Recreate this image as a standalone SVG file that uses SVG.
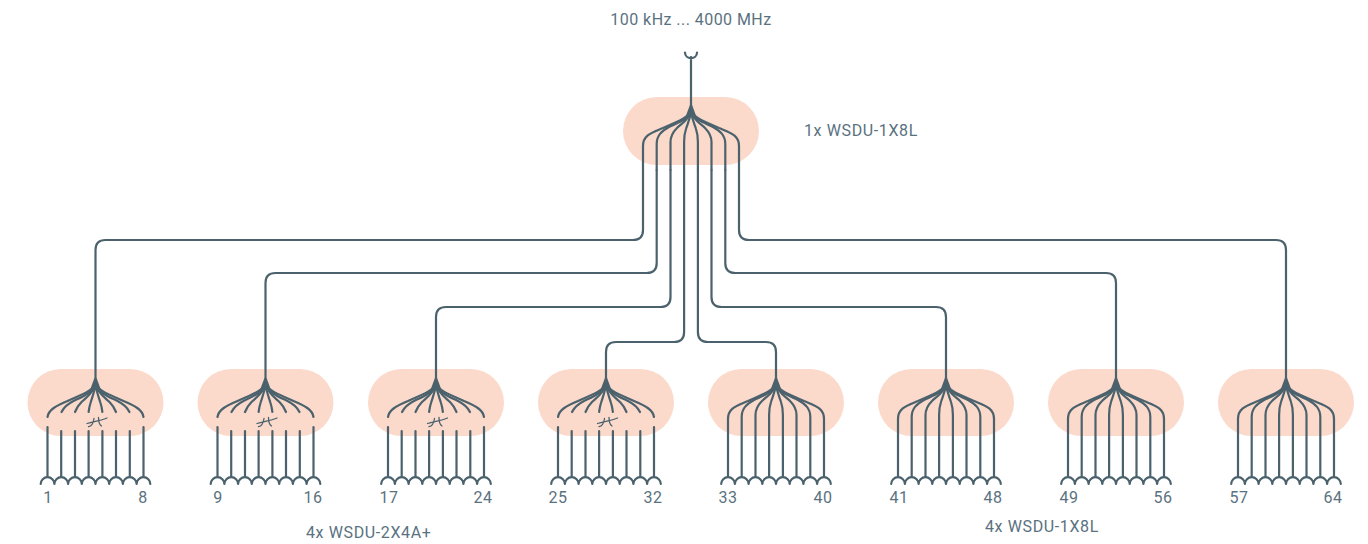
<svg xmlns="http://www.w3.org/2000/svg" width="1368" height="544" viewBox="0 0 1368 544">
<style>
text{font-family:Roboto,"Liberation Sans",sans-serif;font-size:16px;letter-spacing:.45px;fill:#5a7280}
.l{letter-spacing:.62px}
.m{text-anchor:middle}
.pill{fill:#fbd9cb}
.w{fill:none;stroke:#4b626d;stroke-width:2.2;stroke-linecap:round;stroke-linejoin:round}
.t{fill:#4b626d}
</style>
<defs>
<path id="wedge" class="t" d="M-1.100 -3H1.100L5.500 9H-5.500Z"/>
<g id="ports" class="w"><path d="M-54.800 103a6.850 6.850 0 0 1 13.700 0a6.850 6.850 0 0 1 13.700 0a6.850 6.850 0 0 1 13.700 0a6.850 6.850 0 0 1 13.700 0a6.850 6.850 0 0 1 13.700 0a6.850 6.850 0 0 1 13.700 0a6.850 6.850 0 0 1 13.700 0a6.850 6.850 0 0 1 13.700 0"/></g>
<g id="curves-full" class="w">
<path d="M0 3C-4 11-18 15-28 20C-40 25-48 27-48 38V96"/>
<path d="M0 3C-3 12-14 15-22 19C-29 23-34.300 27-34.300 36V96"/>
<path d="M0 3C-2 12-10 16-14 20C-18 24-20.500 28-20.500 34V96"/>
<path d="M0 3C-1 12-4 17-5 21C-6.400 25-6.900 29-6.900 34V96"/>
<path d="M0 3C1 12 4 17 5 21C6.400 25 6.900 29 6.900 34V96"/>
<path d="M0 3C2 12 10 16 14 20C18 24 20.500 28 20.500 34V96"/>
<path d="M0 3C3 12 14 15 22 19C29 23 34.300 27 34.300 36V96"/>
<path d="M0 3C4 11 18 15 28 20C40 25 48 27 48 38V96"/>
</g>
<g id="plain">
<rect class="pill" x="-68" y="-12" width="136" height="67" rx="33.500"/>
<use href="#wedge"/>
<use href="#curves-full"/>
<use href="#ports"/>
</g>
<g id="atten">
<rect class="pill" x="-68" y="-12" width="136" height="67" rx="33.500"/>
<use href="#wedge"/>
<g class="w">
<path d="M0 3C-4 11-18 15-28 20C-40 25-47 29-48 36"/>
<path d="M0 3C-3 12-14 16-22 20C-28 23-32 27-34 31"/>
<path d="M0 3C-2 12-10 17-14 21C-17 24-19 27-20.500 31"/>
<path d="M0 3C-1 12-4 18-5 22C-6 25-6.500 28-6.900 31"/>
<path d="M0 3C1 12 4 18 5 22C6 25 6.500 28 6.900 31"/>
<path d="M0 3C2 12 10 17 14 21C17 24 19 27 20.500 31"/>
<path d="M0 3C3 12 14 16 22 20C28 23 32 27 34 31"/>
<path d="M0 3C4 11 18 15 28 20C40 25 47 29 48 36"/>
<path d="M-48 46V96M48 46V96"/>
<path d="M-34.300 50V96M-20.500 50V96M-6.900 50V96M6.900 50V96M20.500 50V96M34.300 50V96"/>
</g>
<path d="M-8.500 42.500C-4 41 4 40 11.500 37M-1.500 37.500C-2 41-3 45-7 45.700M3 36.500C3 40 3 43 6 45" fill="none" stroke="#4b626d" stroke-width="1.300" stroke-linecap="round"/>
<use href="#ports"/>
</g>
</defs>

<g id="top-splitter">
<rect class="pill" x="623" y="97" width="136" height="68" rx="34"/>
<use href="#wedge" x="691" y="108"/>
<g class="w" transform="translate(691 108)">
<path d="M0 3C-4 11-18 15-28 20C-40 25-48 27-48 38V62"/>
<path d="M0 3C-3 12-14 15-22 19C-29 23-34.300 27-34.300 36V62"/>
<path d="M0 3C-2 12-10 16-14 20C-18 24-20.500 28-20.500 34V62"/>
<path d="M0 3C-1 12-4 17-5 21C-6.400 25-6.900 29-6.900 34V62"/>
<path d="M0 3C1 12 4 17 5 21C6.400 25 6.900 29 6.900 34V62"/>
<path d="M0 3C2 12 10 16 14 20C18 24 20.500 28 20.500 34V62"/>
<path d="M0 3C3 12 14 15 22 19C29 23 34.300 27 34.300 36V62"/>
<path d="M0 3C4 11 18 15 28 20C40 25 48 27 48 38V62"/>
</g>
</g>
<text id="input-label" class="m" x="691" y="25">100 kHz ... 4000 MHz</text>
<text id="top-label" class="l" x="804" y="136">1x WSDU-1X8L</text>

<g id="node-1-8"><use href="#atten" x="95.500" y="381"/><text class="m" x="48" y="503">1</text><text class="m" x="143" y="503">8</text></g>
<g id="node-9-16"><use href="#atten" x="265.500" y="381"/><text class="m" x="218" y="503">9</text><text class="m" x="313" y="503">16</text></g>
<g id="node-17-24"><use href="#atten" x="436" y="381"/><text class="m" x="389" y="503">17</text><text class="m" x="483" y="503">24</text></g>
<g id="node-25-32"><use href="#atten" x="606" y="381"/><text class="m" x="558" y="503">25</text><text class="m" x="653" y="503">32</text></g>
<g id="node-33-40"><use href="#plain" x="776" y="381"/><text class="m" x="728" y="503">33</text><text class="m" x="823" y="503">40</text></g>
<g id="node-41-48"><use href="#plain" x="946" y="381"/><text class="m" x="899" y="503">41</text><text class="m" x="993" y="503">48</text></g>
<g id="node-49-56"><use href="#plain" x="1116" y="381"/><text class="m" x="1069" y="503">49</text><text class="m" x="1163" y="503">56</text></g>
<g id="node-57-64"><use href="#plain" x="1286" y="381"/><text class="m" x="1239" y="503">57</text><text class="m" x="1333" y="503">64</text></g>

<text id="label-2x4" class="l" x="306" y="538">4x WSDU-2X4A+</text>
<text id="label-1x8" class="l" x="985" y="532">4x WSDU-1X8L</text>

<g id="connectors" class="w">
<path d="M685 52.500C685 60 697 60 697 52.500M691 57V108"/>
<path d="M643 170V230Q643 240 633 240H105.500Q95.500 240 95.500 250V382"/>
<path d="M656.700 170V263Q656.700 273 646.700 273H275.500Q265.500 273 265.500 283V382"/>
<path d="M670.500 170V297Q670.500 307 660.500 307H446Q436 307 436 317V382"/>
<path d="M684.100 170V332Q684.100 342 674.100 342H616Q606 342 606 352V382"/>
<path d="M697.900 170V332Q697.900 342 707.900 342H766Q776 342 776 352V382"/>
<path d="M711.500 170V297Q711.500 307 721.500 307H936Q946 307 946 317V382"/>
<path d="M725.300 170V263Q725.300 273 735.300 273H1106Q1116 273 1116 283V382"/>
<path d="M739 170V230Q739 240 749 240H1276Q1286 240 1286 250V382"/>
</g>
</svg>
